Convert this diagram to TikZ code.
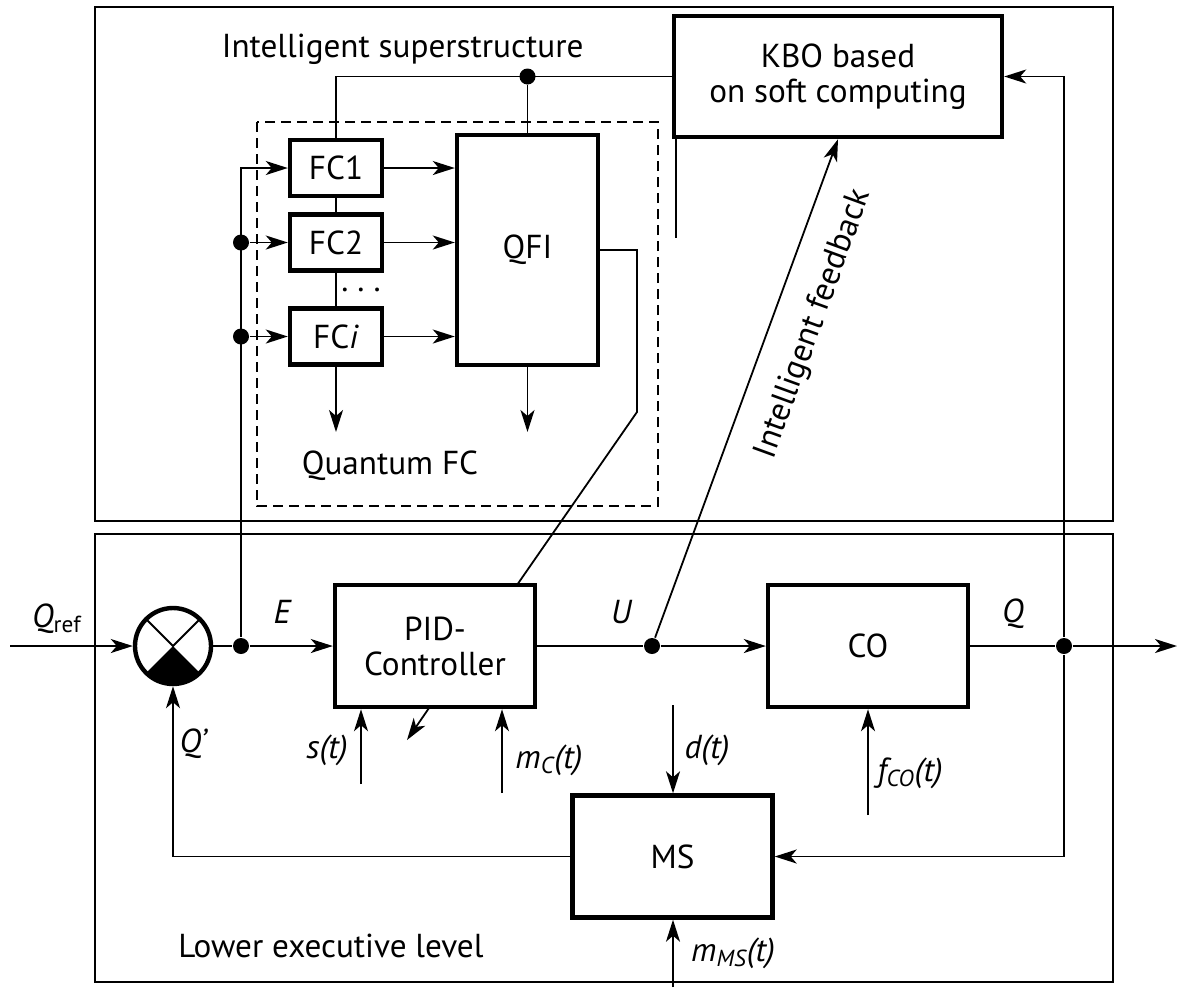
\documentclass[tikz,border=0pt]{standalone}
\usepackage{fontspec}
\setmainfont{PT Sans}
\usetikzlibrary{arrows.meta}
\begin{document}
\begin{tikzpicture}[x=0.5pt,y=-0.5pt,line width=0.9pt,
  blk/.style={draw, line width=2.2pt, inner sep=0pt, align=center, font=\fontsize{16.6}{17.5}\selectfont},
  lbl/.style={inner sep=0pt, font=\fontsize{16.6}{17.5}\selectfont},
  lbli/.style={inner sep=0pt, font=\fontsize{16.6}{17.5}\selectfont\itshape},
  arr/.style={-{Stealth[length=11pt,width=7pt,inset=3pt]}},
  jdot/.style={circle, fill, inner sep=0pt, minimum size=8pt},
  fcbox/.style={blk, minimum width=46pt, minimum height=28pt},
  bigbox/.style={blk, minimum width=100pt, minimum height=61pt},
  frame/.style={line width=0.9pt},
  dashframe/.style={line width=0.9pt, dash pattern=on 5pt off 3pt}]
\useasboundingbox (0,0) rectangle (1177,987);

% frames
\draw[frame] (95,7) rectangle (1113,521);
\draw[frame] (95,534) rectangle (1113,982);
\draw[dashframe] (257,122) rectangle (658,506);

% blocks
\node[blk, minimum width=164pt, minimum height=60.5pt] (KBO) at (838,76.5) {KBO based\\on soft computing};
\node[blk, minimum width=70.5pt, minimum height=115pt] (QFI) at (527.5,250) {QFI};
\node[fcbox] (FC1) at (336,168) {FC1};
\node[fcbox] (FC2) at (336,242.5) {FC2};
\node[fcbox] (FCi) at (336,336.5) {FC\textit{i}};
\node[bigbox] (PID) at (435,646) {PID-\\Controller};
\node[bigbox] (CO) at (868,646) {CO};
\node[bigbox] (MS) at (672.5,856.5) {MS};
\node[circle, draw, line width=2.2pt, minimum size=38pt, inner sep=0pt] (sum) at (173,646) {};
\begin{scope}[shift={(sum.center)}, x=1pt, y=1pt]
  \fill (0,0) -- (-45:19pt) arc[start angle=-45, end angle=-135, radius=19pt] -- cycle;
  \draw (45:19pt) -- (0,0) -- (135:19pt);
\end{scope}

% junction dots
\node[jdot] (E) at (241,646) {};
\node[jdot] (U) at (652,646) {};
\node[jdot] (Q) at (1064,646) {};
\node[jdot] (T) at (QFI.north |- KBO.west) {};
\node[jdot] (d2) at (E |- FC2.west) {};
\node[jdot] (di) at (E |- FCi.west) {};

% texts
\node[lbl, anchor=base west] (tIS) at (221,57) {Intelligent superstructure};
\node[lbl] (tQFC) at (390,466) {Quantum FC};
\node[lbl] (tLEL) at (331,946) {Lower executive level};
\node[lbl] (dots) at (361,290) {.\hspace{4.5pt}.\hspace{4.5pt}.};
\node[lbl, rotate=70] (tIF) at (814,324) {Intelligent feedback};
\node[lbli] (lQref) at (57,619) {Q\textsubscript{\upshape ref}};
\node[lbli] (lE) at (282,612) {E};
\node[lbli] (lU) at (621,612) {U};
\node[lbli] (lQ) at (1013,614) {Q};
\node[lbli] (lQp) at (193,744) {Q’};
\node[lbli] (ls) at (327,750) {s(t)};
\node[lbli] (lmc) at (549,760) {m\textsubscript{C}(t)};
\node[lbli] (ld) at (707,750) {d(t)};
\node[lbli] (lfco) at (910,773) {f\textsubscript{CO}(t)};
\node[lbli] (lmms) at (733,953) {m\textsubscript{MS}(t)};

% free-end coordinates
\coordinate (qin) at (10,646);
\coordinate (qout) at (1177,646);
\coordinate (kb) at (676,238);
\coordinate (qa) at (637,412);
\coordinate (pidtop) at (517,585);
\coordinate (s0) at (361,784);
\coordinate (mc0) at (502,793);
\coordinate (fco0) at (868,815);
\coordinate (d0) at (673,705);
\coordinate (mms0) at (673,987);
\coordinate (fciout) at (336,432);
\coordinate (qfiout) at (527.5,432);
\coordinate (diag0) at (429,708);
\coordinate (diag1) at (407,740);

% lower level connections
\draw[arr] (qin) -- (sum.west);
\draw (sum.east) -- (E);
\draw[arr] (E) -- (PID.west);
\draw (PID.east) -- (U);
\draw[arr] (U) -- (CO.west);
\draw (CO.east) -- (Q);
\draw[arr] (Q) -- (qout);
\draw[arr] (Q) |- (MS.east);
\draw[arr] (MS.west) -| (sum.south);
\draw[arr] (s0) -- (s0 |- PID.south);
\draw[arr] (mc0) -- (mc0 |- PID.south);
\draw[arr] (fco0) -- (fco0 |- CO.south);
\draw[arr] (d0) -- (d0 |- MS.north);
\draw[arr] (mms0) -- (mms0 |- MS.south);
\draw[arr] (diag0) -- (diag1);

% links to superstructure
\draw[arr] (E) |- (FC1.west);
\draw[arr] (d2) -- (FC2.west);
\draw[arr] (di) -- (FCi.west);
\draw[arr] (FC1.east) -- (FC1.east -| QFI.west);
\draw[arr] (FC2.east) -- (FC2.east -| QFI.west);
\draw[arr] (FCi.east) -- (FCi.east -| QFI.west);
\draw (FC1.south) -- (FC2.north);
\draw (FC2.south) -- (FCi.north);
\draw[arr] (FCi.south) -- (fciout);
\draw[arr] (QFI.south) -- (qfiout);
\draw (FC1.north) |- (KBO.west);
\draw (T) -- (QFI.north);
\draw (QFI.east) -| (qa) -- (pidtop);
\draw (kb |- KBO.south) -- (kb);
\draw[arr] (U) -- (KBO.south);
\draw[arr] (Q) |- (KBO.east);
\end{tikzpicture}
\end{document}
